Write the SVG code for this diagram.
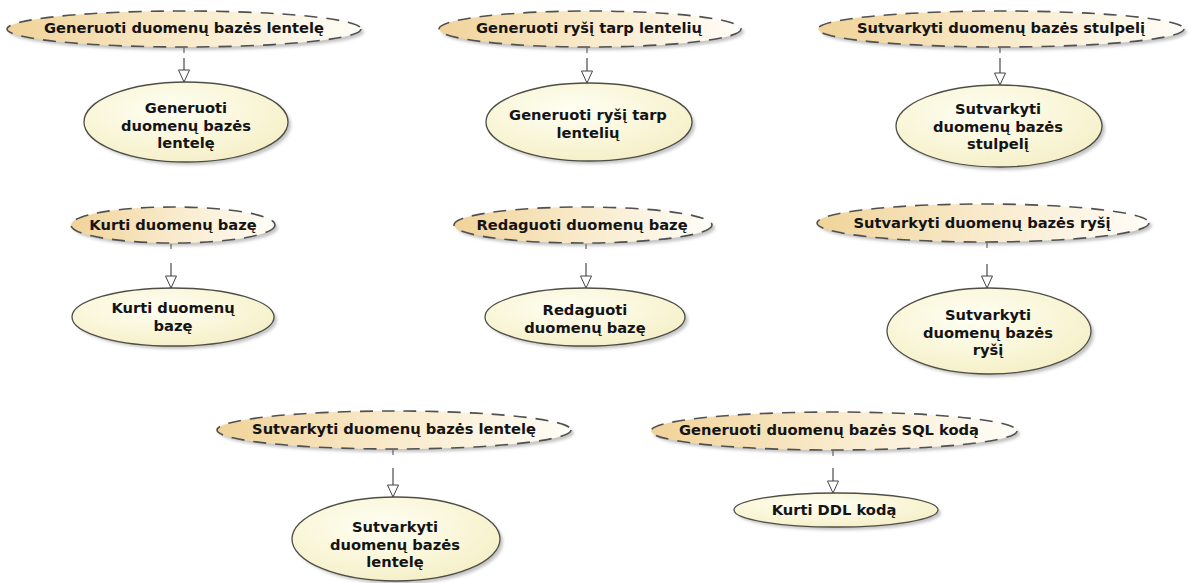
<svg xmlns="http://www.w3.org/2000/svg" width="1193" height="583" viewBox="0 0 1193 583">
  <defs>
    <linearGradient id="collabFill" x1="0" y1="0" x2="1" y2="0">
      <stop offset="0" stop-color="#f0d399"/>
      <stop offset="0.45" stop-color="#f8e8c6"/>
      <stop offset="1" stop-color="#fffdf8"/>
    </linearGradient>
    <radialGradient id="caseFill" cx="0.42" cy="0.35" r="0.75">
      <stop offset="0" stop-color="#fffff3"/>
      <stop offset="1" stop-color="#f4eec3"/>
    </radialGradient>
    <filter id="soft" x="-10%" y="-30%" width="120%" height="160%">
      <feGaussianBlur stdDeviation="1.6"/>
    </filter>
    <marker id="hollow" viewBox="0 0 14 13" refX="13" refY="6.5" markerWidth="14" markerHeight="13" markerUnits="userSpaceOnUse" orient="auto">
      <path d="M1,1 L13,6.5 L1,12 Z" fill="#ffffff" stroke="#444" stroke-width="1"/>
    </marker>
  </defs>
  <style>
    .shadow { fill: #c4c4c4; filter: url(#soft); }
    .collab { fill: url(#collabFill); stroke: #505050; stroke-width: 1.6; stroke-dasharray: 13 9; }
    .case { fill: url(#caseFill); stroke: #4e4e46; stroke-width: 1.3; }
    .lbl { font-family: "DejaVu Sans", "Liberation Sans", sans-serif; font-weight: bold; font-size: 14.7px; fill: #141414; text-anchor: middle; }
    .dep { stroke: #3a3a3a; stroke-width: 1.1; fill: none; }
    .tick { stroke: #555; stroke-width: 1.1; }
  </style>

  <rect width="1193" height="583" fill="#ffffff"/>

  <!-- collaborations (dashed) -->
  <g id="collab-gen-lentele">
    <ellipse class="shadow" cx="187" cy="32" rx="177" ry="18"/>
    <ellipse class="collab" cx="184" cy="29" rx="177" ry="18"/>
    <text class="lbl" x="184" y="33">Generuoti duomenų bazės lentelę</text>
  </g>
  <g id="collab-gen-rysi">
    <ellipse class="shadow" cx="593" cy="32" rx="151" ry="18"/>
    <ellipse class="collab" cx="590" cy="29" rx="151" ry="18"/>
    <text class="lbl" x="589" y="33">Generuoti ryšį tarp lentelių</text>
  </g>
  <g id="collab-stulpeli">
    <ellipse class="shadow" cx="1004" cy="32" rx="183" ry="18"/>
    <ellipse class="collab" cx="1001" cy="29" rx="183" ry="18"/>
    <text class="lbl" x="1001" y="33">Sutvarkyti duomenų bazės stulpelį</text>
  </g>
  <g id="collab-kurti">
    <ellipse class="shadow" cx="176" cy="228" rx="102" ry="18"/>
    <ellipse class="collab" cx="173" cy="225" rx="102" ry="18"/>
    <text class="lbl" x="173" y="230">Kurti duomenų bazę</text>
  </g>
  <g id="collab-redaguoti">
    <ellipse class="shadow" cx="586" cy="228" rx="129" ry="18"/>
    <ellipse class="collab" cx="583" cy="225" rx="129" ry="18"/>
    <text class="lbl" x="582" y="230">Redaguoti duomenų bazę</text>
  </g>
  <g id="collab-rysi">
    <ellipse class="shadow" cx="986" cy="226" rx="166" ry="19"/>
    <ellipse class="collab" cx="983" cy="223" rx="166" ry="19"/>
    <text class="lbl" x="982" y="228">Sutvarkyti duomenų bazės ryšį</text>
  </g>
  <g id="collab-lentele">
    <ellipse class="shadow" cx="397" cy="433" rx="177" ry="19"/>
    <ellipse class="collab" cx="394" cy="430" rx="177" ry="19"/>
    <text class="lbl" x="394" y="434">Sutvarkyti duomenų bazės lentelę</text>
  </g>
  <g id="collab-sql">
    <ellipse class="shadow" cx="837" cy="434" rx="183" ry="19"/>
    <ellipse class="collab" cx="834" cy="431" rx="183" ry="19"/>
    <text class="lbl" x="829" y="435">Generuoti duomenų bazės SQL kodą</text>
  </g>

  <!-- use cases -->
  <g id="uc-gen-lentele">
    <ellipse class="shadow" cx="189" cy="125" rx="102" ry="40"/>
    <ellipse class="case" cx="186" cy="122" rx="102" ry="40"/>
    <text class="lbl" x="186" y="113">Generuoti</text>
    <text class="lbl" x="186" y="130.5">duomenų bazės</text>
    <text class="lbl" x="186" y="148">lentelę</text>
  </g>
  <g id="uc-gen-rysi">
    <ellipse class="shadow" cx="592" cy="125" rx="103" ry="39"/>
    <ellipse class="case" cx="589" cy="122" rx="103" ry="39"/>
    <text class="lbl" x="588" y="120">Generuoti ryšį tarp</text>
    <text class="lbl" x="588" y="137.5">lentelių</text>
  </g>
  <g id="uc-stulpeli">
    <ellipse class="shadow" cx="1002" cy="129" rx="103" ry="41"/>
    <ellipse class="case" cx="999" cy="126" rx="103" ry="41"/>
    <text class="lbl" x="998" y="114">Sutvarkyti</text>
    <text class="lbl" x="998" y="131.5">duomenų bazės</text>
    <text class="lbl" x="998" y="149">stulpelį</text>
  </g>
  <g id="uc-kurti">
    <ellipse class="shadow" cx="176" cy="320" rx="101" ry="29"/>
    <ellipse class="case" cx="173" cy="317" rx="101" ry="29"/>
    <text class="lbl" x="173" y="313">Kurti duomenų</text>
    <text class="lbl" x="173" y="331">bazę</text>
  </g>
  <g id="uc-redaguoti">
    <ellipse class="shadow" cx="588" cy="320" rx="100" ry="29"/>
    <ellipse class="case" cx="585" cy="317" rx="100" ry="29"/>
    <text class="lbl" x="585" y="315">Redaguoti</text>
    <text class="lbl" x="585" y="332.5">duomenų bazę</text>
  </g>
  <g id="uc-rysi">
    <ellipse class="shadow" cx="992" cy="334" rx="102" ry="43"/>
    <ellipse class="case" cx="989" cy="331" rx="102" ry="43"/>
    <text class="lbl" x="988" y="320">Sutvarkyti</text>
    <text class="lbl" x="988" y="337.5">duomenų bazės</text>
    <text class="lbl" x="988" y="355">ryšį</text>
  </g>
  <g id="uc-lentele">
    <ellipse class="shadow" cx="399" cy="542" rx="104" ry="42"/>
    <ellipse class="case" cx="396" cy="539" rx="104" ry="42"/>
    <text class="lbl" x="395" y="532">Sutvarkyti</text>
    <text class="lbl" x="395" y="549.5">duomenų bazės</text>
    <text class="lbl" x="395" y="567">lentelę</text>
  </g>
  <g id="uc-ddl">
    <ellipse class="shadow" cx="839" cy="513" rx="102" ry="17"/>
    <ellipse class="case" cx="836" cy="510" rx="102" ry="17"/>
    <text class="lbl" x="834" y="515">Kurti DDL kodą</text>
  </g>

  <!-- realization connectors -->
  <g id="connectors">
    <line class="tick" x1="184" y1="48" x2="184" y2="53"/>
    <line class="dep" x1="184" y1="58" x2="184" y2="82" marker-end="url(#hollow)"/>
    <line class="tick" x1="587" y1="48" x2="587" y2="53"/>
    <line class="dep" x1="587" y1="58" x2="587" y2="83" marker-end="url(#hollow)"/>
    <line class="tick" x1="1000" y1="48" x2="1000" y2="53"/>
    <line class="dep" x1="1000" y1="58" x2="1000" y2="85" marker-end="url(#hollow)"/>
    <line class="tick" x1="171" y1="244" x2="171" y2="249"/>
    <line class="dep" x1="171" y1="263" x2="171" y2="288" marker-end="url(#hollow)"/>
    <line class="tick" x1="586" y1="244" x2="586" y2="249"/>
    <line class="dep" x1="586" y1="263" x2="586" y2="288" marker-end="url(#hollow)"/>
    <line class="tick" x1="987" y1="243" x2="987" y2="248"/>
    <line class="dep" x1="987" y1="264" x2="987" y2="288" marker-end="url(#hollow)"/>
    <line class="tick" x1="393" y1="450" x2="393" y2="455"/>
    <line class="dep" x1="393" y1="468" x2="393" y2="497" marker-end="url(#hollow)"/>
    <line class="tick" x1="833" y1="451" x2="833" y2="456"/>
    <line class="dep" x1="833" y1="468" x2="833" y2="493" marker-end="url(#hollow)"/>
  </g>
</svg>
